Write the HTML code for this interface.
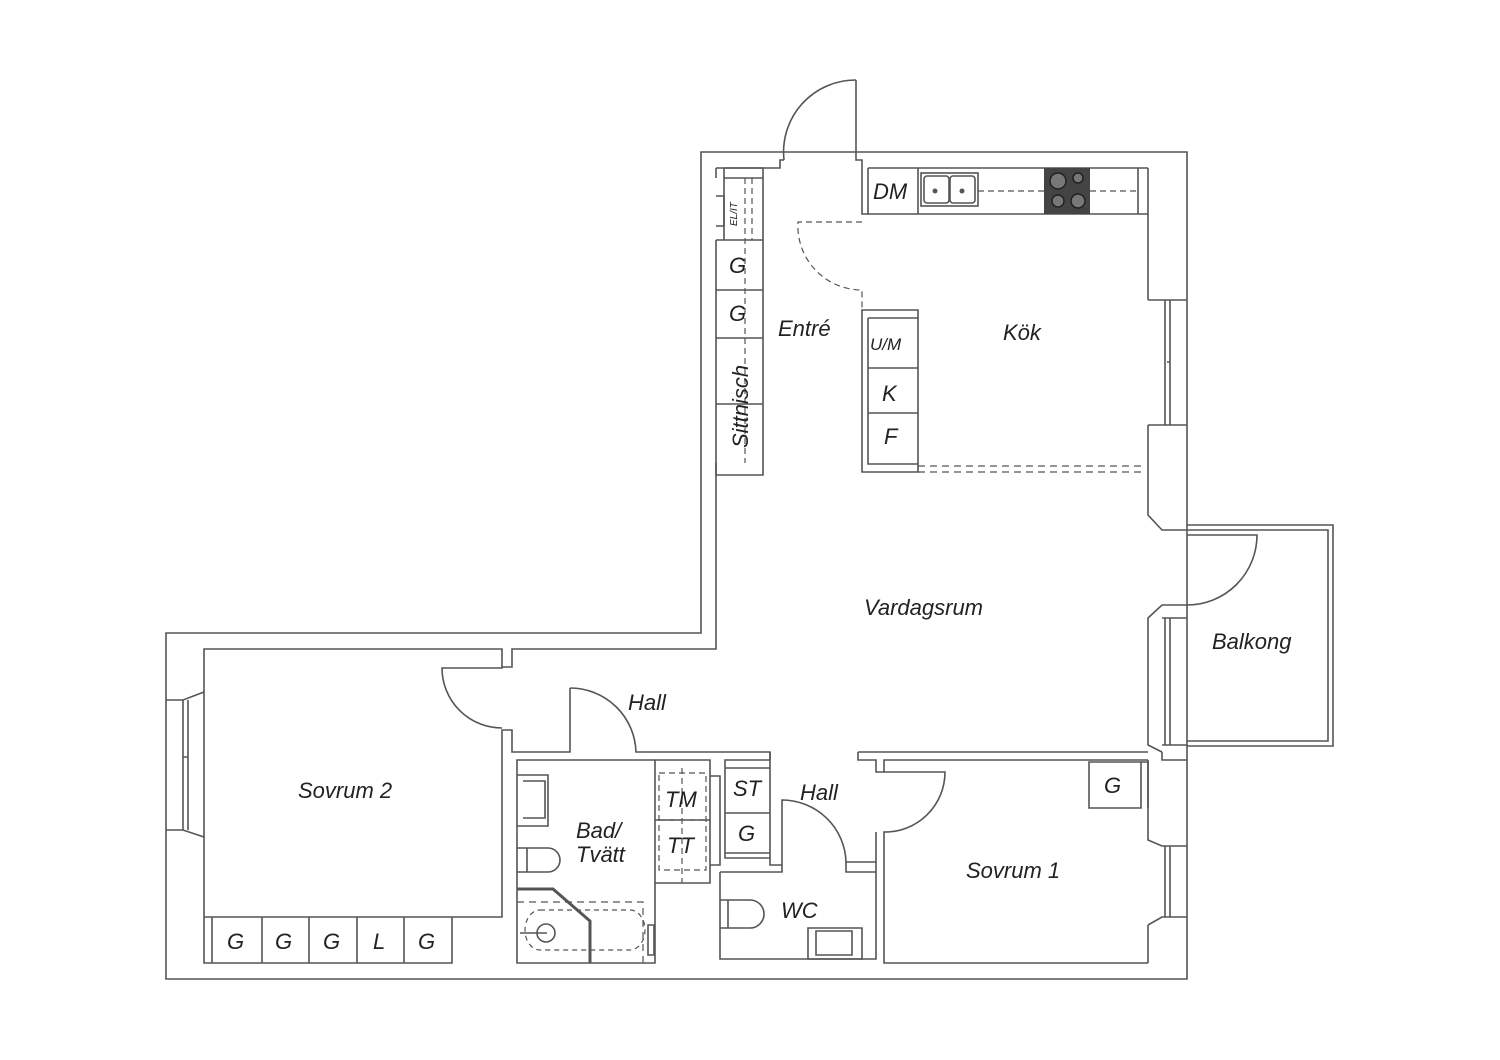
<!DOCTYPE html>
<html><head><meta charset="utf-8"><style>
html,body{margin:0;padding:0;background:#fff;}
svg{display:block}
text{font-family:"Liberation Sans",sans-serif;font-style:italic;fill:#222;}
</style></head><body>
<svg width="1500" height="1060" viewBox="0 0 1500 1060" xmlns="http://www.w3.org/2000/svg">
<g fill="none" stroke="#555" stroke-width="1.6">
<!-- outer boundary -->
<path d="M701,152 H1187 V979 H166 V633 H701 Z"/>
<!-- entry door -->
<path d="M716,168 H780 V160 H784"/>
<path d="M856,80 V160 H862 V214 H868"/>
<path d="M856,80 A72,72 0 0 0 784,160"/>
<!-- upper left inner wall -->
<path d="M716,168 V178"/>
<path d="M716,463 V649 H512 V667 H502 V649 H204 V917"/>
<!-- right inner wall with windows -->
<path d="M1148,168 V300 M1148,425 V515 L1162,530 H1187"/>
<path d="M1187,605 H1162 L1148,618 V745 L1162,752"/>
<path d="M1148,300 L1165,300 H1187 M1148,425 L1165,425 H1187"/>
<path d="M1165,300 V425 M1170,300 V425 M1167,362 H1170"/>
<path d="M1162,618 H1187 M1162,745 H1187 M1165,618 V745 M1170,618 V745"/>
<path d="M1162,752 V760 H1187 M1148,760 V840 L1162,846 H1187 M1148,925 L1162,917 H1187 M1148,925 V963"/>
<path d="M1165,846 V917 M1170,846 V917"/>
<!-- balcony -->
<path d="M1187,525 H1333 V746 H1187"/>
<path d="M1187,530 H1328 V741 H1187"/>
<path d="M1187,535 H1257 A70,70 0 0 1 1187,605"/>
<!-- left window -->
<path d="M166,700 L183,700 L204,692 M166,830 L183,830 L204,837 M183,700 V830 M188,700 V830 M183,757 H188"/>
<!-- Sovrum 2 -->
<path d="M204,917 H502 V730 H512 V752 H570 V688"/>
<path d="M204,917 V963 H452 V917 M212,917 V963 M262,917 V963 M309,917 V963 M357,917 V963 M404,917 V963"/>
<path d="M502,667 V668 H442 A60,60 0 0 0 502,728"/>
<!-- hall/bath door -->
<path d="M570,688 A66,66 0 0 1 636,752 H770 V760"/>
<!-- bathroom -->
<path d="M517,760 H655 V963 H517 Z"/>
<path d="M517,775 H548 V826 H517 M523,781 H545 V818 H523"/>
<path d="M517,848 H548 A12,12 0 0 1 548,872 H517 M527,848 V872"/>
<path d="M517,889 H553 L590,921 V963" stroke-width="3"/>
<path d="M517,902 H643 V963" stroke-dasharray="7,5" stroke-width="1.2"/>
<path d="M540,910 H630 A15,20 0 0 1 630,950 H540 A15,20 0 0 1 540,910" stroke-dasharray="5,4" stroke-width="1.2"/>
<circle cx="546" cy="933" r="9"/>
<path d="M520,933 H547 M648,925 H654 V955 H648 Z"/>
<!-- TM/TT -->
<path d="M655,760 H710 V883 H655 M655,820 H710 M710,776 H720 V865 H710"/>
<path d="M659,773 H706 V870 H659 Z M659,820 H706 M682,768 V883" stroke-dasharray="6,4" stroke-width="1.2"/>
<!-- ST/G closet -->
<path d="M725,760 H770 V858 H725 Z M725,768 H770 M725,813 H770 M725,853 H770"/>
<path d="M770,752 V760 M770,858 V865 H782"/>
<!-- WC -->
<path d="M720,872 H782 V800 A64,64 0 0 1 846,862 H876 V959 H720 V872"/>
<path d="M846,862 V872 H876"/>
<path d="M720,900 H750 A14,14 0 0 1 750,928 H720 M728,900 V928"/>
<path d="M808,928 H862 V959 H808 Z M816,931 H852 V955 H816 Z"/>
<!-- Sovrum 1 -->
<path d="M858,752 H1148 M858,752 V760 H876 V772 H884 V760 H1148"/>
<path d="M884,772 H945 A60,60 0 0 1 884,832 V963 H1148"/>
<path d="M876,832 V862"/>
<path d="M1089,762 H1141 V808 H1089 Z M1141,762 H1148 V808"/>
<!-- left cabinets -->
<path d="M724,168 H763 V475 H716 V463 M716,240 H763 M716,290 H763 M716,338 H763 M716,404 H763 M724,168 V240 M716,240 V463 M724,178 H763"/>
<path d="M716,196 H724 V226 H716"/>
<path d="M745,178 V463 M752,178 V240" stroke-dasharray="6,4" stroke-width="1.2"/>
<!-- kitchen counter -->
<path d="M868,168 H1148 M868,168 V214 H1148 M918,168 V214 M1138,168 V214"/>
<rect x="921" y="173" width="57" height="33"/>
<rect x="924" y="176" width="25" height="27" rx="3"/>
<rect x="950" y="176" width="25" height="27" rx="3"/>
<path d="M978,191 H1044 M1090,191 H1136" stroke-dasharray="6,4" stroke-width="1.2"/>
<!-- entry dashed door -->
<path d="M862,222 H798 A64,64 0 0 0 862,290 V310" stroke-dasharray="6,4" stroke-width="1.2"/>
<!-- island -->
<path d="M862,310 H918 V472 H862 Z M868,318 H918 V464 H868 V318 M868,368 H918 M868,413 H918 M862,318 V472"/>
<path d="M918,466 H1145 M918,472 H1145" stroke-dasharray="7,5" stroke-width="1.2"/>
</g>
<!-- hob -->
<rect x="1044" y="168" width="46" height="46" fill="#444"/>
<g fill="#777" stroke="#222" stroke-width="1.5">
<circle cx="1058" cy="181" r="8"/><circle cx="1078" cy="178" r="5"/>
<circle cx="1058" cy="201" r="6"/><circle cx="1078" cy="201" r="7"/>
</g>
<g fill="#555"><circle cx="935" cy="191" r="2.5"/><circle cx="962" cy="191" r="2.5"/></g>
<!-- labels -->
<g font-size="22">
<text x="873" y="199">DM</text>
<text x="778" y="336">Entré</text>
<text x="1003" y="340">Kök</text>
<text x="864" y="615">Vardagsrum</text>
<text x="1212" y="649">Balkong</text>
<text x="628" y="710">Hall</text>
<text x="800" y="800">Hall</text>
<text x="298" y="798">Sovrum 2</text>
<text x="966" y="878">Sovrum 1</text>
<text x="576" y="838">Bad/</text>
<text x="576" y="862">Tvätt</text>
<text x="781" y="918">WC</text>
<text x="665" y="807">TM</text>
<text x="667" y="853">TT</text>
<text x="733" y="796">ST</text>
<text x="738" y="841">G</text>
<text x="1104" y="793">G</text>
<text x="729" y="273">G</text>
<text x="729" y="321">G</text>
<text x="882" y="401">K</text>
<text x="884" y="444">F</text>
<text x="227" y="949">G</text>
<text x="275" y="949">G</text>
<text x="323" y="949">G</text>
<text x="373" y="949">L</text>
<text x="418" y="949">G</text>
<text x="748" y="448" transform="rotate(-90 748 448)">Sittnisch</text>
</g>
<text x="870" y="350" font-size="17">U/M</text>
<text x="737" y="226" font-size="10" transform="rotate(-90 737 226)">EL/IT</text>
</svg>
</body></html>
